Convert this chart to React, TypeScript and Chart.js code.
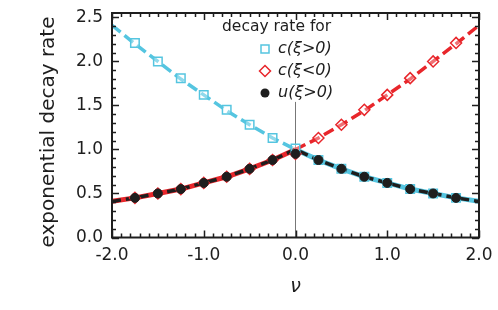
import React, { useEffect, useRef } from 'react';
import { Chart, registerables } from 'chart.js';

Chart.register(...registerables);

const FONT = "'DejaVu Sans', sans-serif";
const CYAN = '#55C5E0';
const RED = '#E8262B';
const BLACK = '#1e1e1e';
const GRAY = '#777777';

const nuMarkers = [-1.75, -1.5, -1.25, -1.0, -0.75, -0.5, -0.25, 0, 0.25, 0.5, 0.75, 1.0, 1.25, 1.5, 1.75];
const cPlusMarkers = [2.21, 2.0, 1.81, 1.62, 1.45, 1.28, 1.13, 1.01, 0.88, 0.78, 0.69, 0.62, 0.55, 0.5, 0.45];
const cMinusMarkers = [0.45, 0.5, 0.55, 0.62, 0.69, 0.78, 0.88, 0.95, 1.13, 1.28, 1.45, 1.62, 1.81, 2.0, 2.21];
const uMarkers = [0.45, 0.5, 0.55, 0.62, 0.69, 0.78, 0.88, 0.95, 0.88, 0.78, 0.69, 0.62, 0.55, 0.5, 0.45];

const nuLeft = [-2.0, -1.75, -1.5, -1.25, -1.0, -0.75, -0.5, -0.25, 0];
const nuRight = [0, 0.25, 0.5, 0.75, 1.0, 1.25, 1.5, 1.75, 2.0];
const upperLeft = [2.41, 2.2, 2.0, 1.8, 1.62, 1.44, 1.28, 1.13, 1.0];
const lowerLeft = [0.41, 0.45, 0.5, 0.55, 0.62, 0.69, 0.78, 0.88, 1.0];
const lowerRight = [1.0, 0.88, 0.78, 0.69, 0.62, 0.55, 0.5, 0.45, 0.41];
const upperRight = [1.0, 1.13, 1.28, 1.44, 1.62, 1.8, 2.0, 2.2, 2.41];

const guideNu = [0, 0];
const guideRate = [0, 1.54];

const xTickValues = [-2, -1, 0, 1, 2];
const yTickValues = [0, 0.5, 1.0, 1.5, 2.0, 2.5];
const xLabel = 'ν';
const yLabel = 'exponential decay rate';
const legendTitle = 'decay rate for';
const legendLabels = ['c(ξ>0)', 'c(ξ<0)', 'u(ξ>0)'];

const zip = (xs: number[], ys: number[]) => xs.map((x, i) => ({ x, y: ys[i] }));

const noPad = (s: any) => {
  s.paddingTop = 0;
  s.paddingBottom = 0;
  s.paddingLeft = 0;
  s.paddingRight = 0;
};

const framePlugin = {
  id: 'frameTicks',
  afterDatasetsDraw(chart: any) {
    const { ctx, chartArea: ca, scales } = chart;
    const x = scales.x;
    const y = scales.y;
    ctx.save();
    ctx.strokeStyle = BLACK;
    ctx.lineWidth = 1.5;
    ctx.beginPath();
    for (let i = -20; i <= 20; i++) {
      const px = Math.round(x.getPixelForValue(i / 10)) + 0.5;
      const len = i % 10 === 0 ? 7 : 4;
      ctx.moveTo(px, ca.bottom);
      ctx.lineTo(px, ca.bottom - len);
      ctx.moveTo(px, ca.top);
      ctx.lineTo(px, ca.top + len);
    }
    for (let i = 0; i <= 25; i++) {
      const py = Math.round(y.getPixelForValue(i / 10)) + 0.5;
      const len = i % 5 === 0 ? 7 : 4;
      ctx.moveTo(ca.left, py);
      ctx.lineTo(ca.left + len, py);
      ctx.moveTo(ca.right, py);
      ctx.lineTo(ca.right - len, py);
    }
    ctx.stroke();
    ctx.lineWidth = 2;
    ctx.strokeRect(ca.left, ca.top, ca.right - ca.left, ca.bottom - ca.top);
    ctx.restore();
  },
  afterDraw(chart: any) {
    const { ctx, chartArea: ca } = chart;
    ctx.save();
    ctx.fillStyle = BLACK;
    ctx.font = `20px ${FONT}`;
    ctx.textAlign = 'center';
    ctx.textBaseline = 'middle';
    ctx.translate(49, 132);
    ctx.rotate(-Math.PI / 2);
    ctx.fillText(yLabel, 0, 0);
    ctx.restore();

    ctx.save();
    ctx.fillStyle = BLACK;
    ctx.font = `15.5px ${FONT}`;
    ctx.textAlign = 'left';
    ctx.textBaseline = 'middle';
    const lx = ca.left + 110;
    ctx.fillText(legendTitle, lx, 27);
    const mx = ca.left + 153;
    const tx = ca.left + 166;
    const rows = [49, 71, 93];
    ctx.font = `italic 16px ${FONT}`;
    legendLabels.forEach((lab, i) => {
      ctx.fillStyle = BLACK;
      ctx.fillText(lab, tx, rows[i]);
    });
    ctx.lineWidth = 1.5;
    ctx.strokeStyle = CYAN;
    ctx.strokeRect(mx - 4, rows[0] - 4, 8, 8);
    ctx.strokeStyle = RED;
    ctx.beginPath();
    ctx.moveTo(mx, rows[1] - 5.5);
    ctx.lineTo(mx + 5.5, rows[1]);
    ctx.lineTo(mx, rows[1] + 5.5);
    ctx.lineTo(mx - 5.5, rows[1]);
    ctx.closePath();
    ctx.stroke();
    ctx.fillStyle = BLACK;
    ctx.beginPath();
    ctx.arc(mx, rows[2], 4.5, 0, Math.PI * 2);
    ctx.fill();
    ctx.restore();
  },
};

export default function App() {
  const canvasRef = useRef<HTMLCanvasElement | null>(null);

  useEffect(() => {
    const canvas = canvasRef.current;
    if (!canvas) return;
    const lineBase = { showLine: true, pointRadius: 0, tension: 0, fill: false };
    const chart = new Chart(canvas, {
      type: 'scatter',
      data: {
        datasets: [
          { label: legendLabels[2], data: zip(nuMarkers, uMarkers), pointStyle: 'circle', pointRadius: 4.5, backgroundColor: BLACK, borderColor: BLACK, borderWidth: 1, showLine: false },
          { label: legendLabels[0], data: zip(nuMarkers, cPlusMarkers), pointStyle: 'rect', pointRadius: 6, backgroundColor: 'rgba(255,255,255,0.35)', borderColor: CYAN, borderWidth: 1.5, showLine: false },
          { label: legendLabels[1], data: zip(nuMarkers, cMinusMarkers), pointStyle: 'rectRot', pointRadius: 5.5, backgroundColor: 'rgba(255,255,255,0.35)', borderColor: RED, borderWidth: 1.5, showLine: false },
          { ...lineBase, label: 'u theory', data: zip(nuLeft.concat(nuRight.slice(1)), lowerLeft.concat(lowerRight.slice(1))), borderColor: BLACK, borderWidth: 3.5, borderDash: [9, 5] },
          { ...lineBase, label: 'c+ upper', data: zip(nuLeft, upperLeft), borderColor: CYAN, borderWidth: 3.5, borderDash: [11, 5] },
          { ...lineBase, label: 'c- upper', data: zip(nuRight, upperRight), borderColor: RED, borderWidth: 3.5, borderDash: [11, 5] },
          { ...lineBase, label: 'c+ lower', data: zip(nuRight, lowerRight), borderColor: CYAN, borderWidth: 5 },
          { ...lineBase, label: 'c- lower', data: zip(nuLeft, lowerLeft), borderColor: RED, borderWidth: 5 },
          { ...lineBase, label: 'guide', data: zip(guideNu, guideRate), borderColor: GRAY, borderWidth: 1 },
        ],
      },
      options: {
        animation: false,
        responsive: false,
        devicePixelRatio: 1,
        layout: { padding: { left: 0, top: 13, right: 19, bottom: 0 } },
        plugins: { legend: { display: false }, tooltip: { enabled: false } },
        scales: {
          x: {
            type: 'linear', min: -2, max: 2,
            grid: { display: false, drawTicks: false },
            border: { display: false },
            afterBuildTicks: (s: any) => { s.ticks = xTickValues.map((v) => ({ value: v })); },
            afterFit: (s: any) => { s.height = 72.5; noPad(s); },
            ticks: { padding: 8, color: BLACK, font: { family: FONT, size: 17 }, maxRotation: 0, callback: (v: any) => Number(v).toFixed(1) },
            title: { display: true, text: xLabel, color: BLACK, font: { family: FONT, size: 19, style: 'italic' }, padding: { top: 0, bottom: 11.5 } },
          },
          y: {
            type: 'linear', min: 0, max: 2.55,
            grid: { display: false, drawTicks: false },
            border: { display: false },
            afterBuildTicks: (s: any) => { s.ticks = yTickValues.map((v) => ({ value: v })); },
            afterFit: (s: any) => { s.width = 112; noPad(s); },
            ticks: { padding: 9, color: BLACK, font: { family: FONT, size: 17 }, callback: (v: any) => Number(v).toFixed(1) },
          },
        },
      },
      plugins: [framePlugin],
    } as any);
    return () => chart.destroy();
  }, []);

  return (
    <div style={{ position: 'absolute', left: 0, top: 0, width: 498, height: 310, background: '#fff' }}>
      <canvas ref={canvasRef} width={498} height={310} style={{ display: 'block' }} />
    </div>
  );
}
